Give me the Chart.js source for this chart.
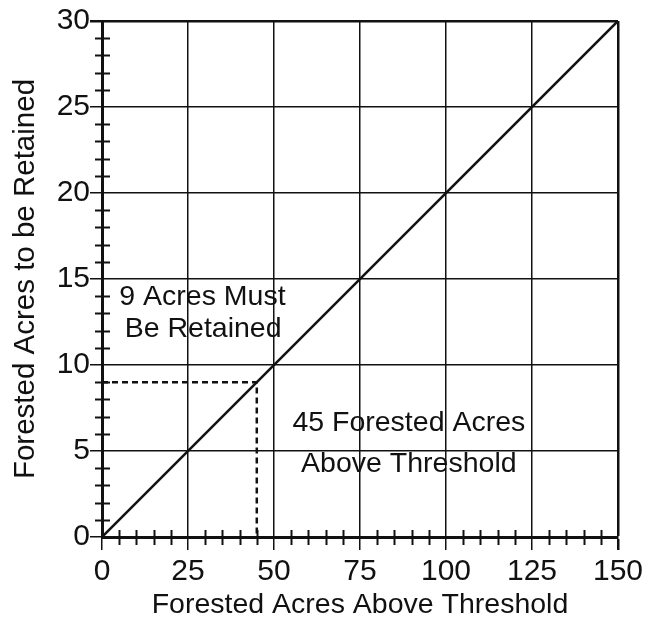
<!DOCTYPE html>
<html>
<head>
<meta charset="utf-8">
<script src="https://cdn.jsdelivr.net/npm/chart.js@4/dist/chart.umd.min.js"></script>
<style>
  body { margin: 0; background: #fff; }
  #wrap { width: 647px; height: 624px; }
</style>
</head>
<body>
<div id="wrap"><canvas id="grafico" width="647" height="624"></canvas></div>
<script>
// dados
var linhaX = [0, 150];
var linhaY = [0, 30];

var tracejadoX = [0, 45, 45];
var tracejadoY = [9, 9, 0];

var ticksX = [0, 25, 50, 75, 100, 125, 150];
var ticksY = [0, 5, 10, 15, 20, 25, 30];

var menoresX = [5, 10, 15, 20, 30, 35, 40, 45, 55, 60, 65, 70, 80, 85, 90, 95, 105, 110, 115, 120, 130, 135, 140, 145];
var menoresY = [1, 2, 3, 4, 6, 7, 8, 9, 11, 12, 13, 14, 16, 17, 18, 19, 21, 22, 23, 24, 26, 27, 28, 29];

// textos dentro do grafico (posição em valores dos eixos)
var notas = [
    { texto: '9 Acres Must', x: 29.2, y: 13.95 },
    { texto: 'Be Retained', x: 29.4, y: 12.1 },
    { texto: '45 Forested Acres', x: 89.2, y: 6.63 },
    { texto: 'Above Threshold', x: 89.2, y: 4.24 }
];

var fonte = 'Liberation Sans, Arial, Helvetica, sans-serif';
var tinta = '#111';

function pontos(xs, ys) {
    var lista = [];
    for (var i = 0; i < xs.length; i++) {
        lista.push({ x: xs[i], y: ys[i] });
    }
    return lista;
}

const pluginExtras = {
    id: 'extras',
    afterDatasetsDraw(chart) {
        const ctx = chart.ctx;
        const sx = chart.scales.x;
        const sy = chart.scales.y;
        ctx.save();
        ctx.strokeStyle = tinta;
        ctx.lineWidth = 2;
        // marcas menores no eixo y
        var x0 = sx.getPixelForValue(0);
        for (var i = 0; i < menoresY.length; i++) {
            var py = Math.round(sy.getPixelForValue(menoresY[i])) + 0.5;
            ctx.beginPath();
            ctx.moveTo(x0 - 7, py);
            ctx.lineTo(x0 + 8, py);
            ctx.stroke();
        }
        // marcas menores no eixo x
        var y0 = sy.getPixelForValue(0);
        for (var j = 0; j < menoresX.length; j++) {
            var px = Math.round(sx.getPixelForValue(menoresX[j])) + 0.5;
            ctx.beginPath();
            ctx.moveTo(px, y0 - 7);
            ctx.lineTo(px, y0 + 8);
            ctx.stroke();
        }
        // textos
        ctx.fillStyle = tinta;
        ctx.font = '28.5px ' + fonte;
        ctx.textAlign = 'center';
        ctx.textBaseline = 'middle';
        for (var k = 0; k < notas.length; k++) {
            ctx.fillText(notas[k].texto, sx.getPixelForValue(notas[k].x), sy.getPixelForValue(notas[k].y));
        }
        ctx.restore();
    }
};

const dados = {
    datasets: [
        {
            label: 'Linha',
            data: pontos(linhaX, linhaY),
            borderColor: tinta,
            borderWidth: 2.5,
            pointRadius: 0,
            showLine: true,
            fill: false
        },
        {
            label: 'Tracejado',
            data: pontos(tracejadoX, tracejadoY),
            borderColor: tinta,
            borderWidth: 2.5,
            borderDash: [6, 4],
            pointRadius: 0,
            showLine: true,
            fill: false
        }
    ]
};

const config = {
    type: 'scatter',
    data: dados,
    plugins: [pluginExtras],
    options: {
        responsive: false,
        animation: false,
        layout: {
            padding: { top: 21, right: 27, left: 0, bottom: 0 }
        },
        plugins: {
            legend: { display: false },
            tooltip: { enabled: false }
        },
        scales: {
            x: {
                type: 'linear',
                min: 0,
                max: 150,
                afterBuildTicks: function (escala) {
                    escala.ticks = ticksX.map(v => ({ value: v }));
                },
                afterFit: function (escala) {
                    escala.height = 87;
                },
                ticks: {
                    color: tinta,
                    font: { size: 30, family: fonte },
                    padding: 4,
                    maxRotation: 0
                },
                grid: {
                    color: tinta,
                    tickColor: tinta,
                    tickLength: 13,
                    lineWidth: ctx => (ctx.tick && ctx.tick.value == 150) ? 2.5 : 1.5
                },
                border: { color: tinta, width: 3 },
                title: {
                    display: true,
                    text: 'Forested Acres Above Threshold',
                    color: tinta,
                    font: { size: 28.5, family: fonte },
                    padding: { top: 0, bottom: 2 }
                }
            },
            y: {
                type: 'linear',
                min: 0,
                max: 30,
                afterBuildTicks: function (escala) {
                    escala.ticks = ticksY.map(v => ({ value: v }));
                },
                afterFit: function (escala) {
                    escala.width = 102;
                },
                ticks: {
                    color: tinta,
                    font: { size: 30, family: fonte },
                    padding: 0
                },
                grid: {
                    color: tinta,
                    tickColor: tinta,
                    tickLength: 12,
                    lineWidth: ctx => (ctx.tick && ctx.tick.value == 30) ? 2.5 : 1.5
                },
                border: { color: tinta, width: 3 },
                title: {
                    display: true,
                    text: 'Forested Acres to be Retained',
                    color: tinta,
                    font: { size: 29.5, family: fonte },
                    padding: { top: 8, bottom: 0 }
                }
            }
        }
    }
};

const meuGrafico = new Chart(document.getElementById('grafico'), config);
</script>
</body>
</html>
